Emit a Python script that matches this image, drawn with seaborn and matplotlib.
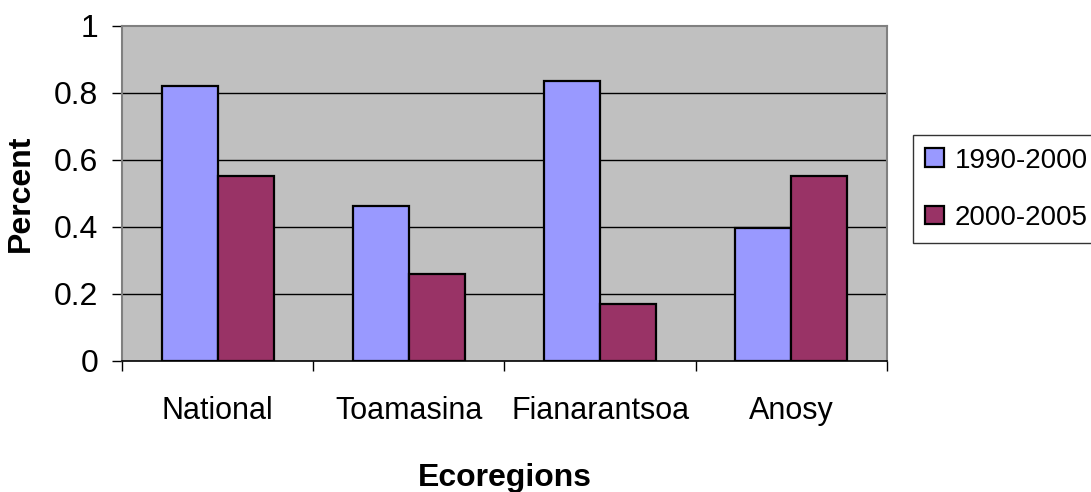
import pandas as pd
import matplotlib.pyplot as plt
import seaborn as sns

regions = ["National", "Toamasina", "Fianarantsoa", "Anosy"]
periods = ["1990-2000", "2000-2005"]
rate_1990_2000 = [0.822, 0.464, 0.837, 0.398]
rate_2000_2005 = [0.552, 0.260, 0.169, 0.552]
tick_labels = ["0", "0.2", "0.4", "0.6", "0.8", "1"]
tick_values = [0, 0.2, 0.4, 0.6, 0.8, 1.0]

df = pd.DataFrame({
    "Region": regions * 2,
    "Period": [periods[0]] * 4 + [periods[1]] * 4,
    "Percent": rate_1990_2000 + rate_2000_2005,
})

sns.set_style("white")
plt.rcParams["font.family"] = ["Liberation Sans", "DejaVu Sans"]
plt.rcParams["text.color"] = "black"
plt.rcParams["axes.labelcolor"] = "black"
plt.rcParams["xtick.color"] = "black"
plt.rcParams["ytick.color"] = "black"

fig = plt.figure(figsize=(10.91, 4.92), dpi=100)
ax = fig.add_axes([0.1118, 0.2663, 0.7012, 0.6809])
ax.set_facecolor("#C0C0C0")

sns.barplot(
    data=df, x="Region", y="Percent", hue="Period",
    palette={"1990-2000": "#9999FF", "2000-2005": "#993366"},
    saturation=1, width=0.585, gap=0, edgecolor="black", linewidth=1.6,
    ax=ax, legend=True, zorder=3,
)

ax.set_xlim(-0.5, 3.5)
ax.set_ylim(0, 1)
ax.set_yticks(tick_values)
ax.set_yticklabels(tick_labels)
for v in tick_values[1:-1]:
    ax.axhline(v, color="black", linewidth=1, zorder=1)

# category separators as ticks below the axis
ax.set_xticks([-0.5, 0.5, 1.5, 2.5, 3.5], minor=True)
ax.tick_params(axis="x", which="major", length=0, pad=25, labelsize=22)
ax.tick_params(axis="x", which="minor", length=7, width=1, direction="out")
ax.tick_params(axis="y", length=7, width=1, direction="out", pad=10, labelsize=23)
ax.tick_params(bottom=True, left=True, which="both")

for side in ["left", "right", "top"]:
    ax.spines[side].set_color("#808080")
    ax.spines[side].set_linewidth(1.5)
ax.spines["bottom"].set_color("black")
ax.spines["bottom"].set_linewidth(1.2)

ax.set_xlabel("Ecoregions", fontsize=23, fontweight="bold", labelpad=27)
ax.set_ylabel("Percent", fontsize=23, fontweight="bold", labelpad=13)

handles, labels = ax.get_legend_handles_labels()
ax.get_legend().remove()
leg = fig.legend(
    handles, labels, loc="upper left", bbox_to_anchor=(0.8368, 0.7256),
    fontsize=20, frameon=True, fancybox=False, edgecolor="black",
    handlelength=0.65, handleheight=0.65, handletextpad=0.4,
    labelspacing=1.12, borderpad=0.45, borderaxespad=0,
)
leg.get_frame().set_linewidth(1)

fig.savefig("out.png", dpi=100)
